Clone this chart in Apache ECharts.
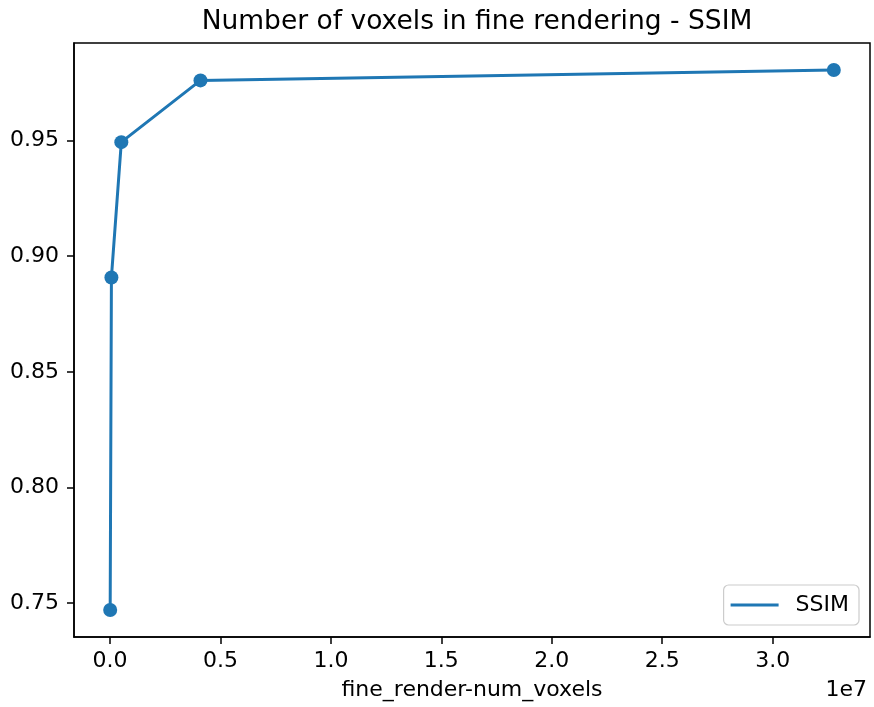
<!DOCTYPE html>
<html>
<head>
<meta charset="utf-8">
<script src="https://cdn.jsdelivr.net/npm/echarts@6/dist/echarts.min.js"></script>
<style>
  html, body { margin: 0; padding: 0; background: #fff; }
  #chart { width: 874px; height: 707px; }
</style>
</head>
<body>
<div id="chart"></div>
<script>
// Fine-render voxel counts and the SSIM measured at each
const voxelCounts = [8000, 64000, 512000, 4096000, 32768000];
const ssimValues = [0.7470, 0.8908, 0.9493, 0.9760, 0.9805];
const xTicks = [0, 5e6, 1e7, 1.5e7, 2e7, 2.5e7, 3e7];
const yTicks = [0.75, 0.80, 0.85, 0.90, 0.95];

// 5% padding around the data range on both axes
const xSpan = voxelCounts[voxelCounts.length - 1] - voxelCounts[0];
const xMin = voxelCounts[0] - 0.05 * xSpan;
const xMax = voxelCounts[voxelCounts.length - 1] + 0.05 * xSpan;
const ySpan = Math.max(...ssimValues) - Math.min(...ssimValues);
const yMin = Math.min(...ssimValues) - 0.05 * ySpan;
const yMax = Math.max(...ssimValues) + 0.05 * ySpan;

const FONT = 'DejaVu Sans';
const TICK_SIZE = 22;
const GRID = { left: 74, right: 4, top: 43, bottom: 70 };
const W = 874;
const plotCenterX = GRID.left + (W - GRID.left - GRID.right) / 2;

const chart = echarts.init(document.getElementById('chart'), null, { renderer: 'canvas' });

chart.setOption({
  animation: false,
  backgroundColor: '#fff',
  title: {
    text: 'Number of voxels in fine rendering - SSIM',
    left: plotCenterX,
    textAlign: 'center',
    top: 4,
    textStyle: { fontFamily: FONT, fontSize: 26.5, fontWeight: 'normal', color: '#000' }
  },
  grid: Object.assign({}, GRID, {
    outerBoundsMode: 'none',
    containLabel: false,
    show: true, borderColor: '#000', borderWidth: 1.5, backgroundColor: 'transparent'
  }),
  legend: {
    data: ['SSIM'],
    right: 15, bottom: 82,
    orient: 'vertical',
    itemWidth: 48, itemHeight: 3, itemGap: 6,
    padding: [9, 10, 9, 7],
    borderColor: '#cccccc', borderWidth: 1.2, borderRadius: 5,
    backgroundColor: 'rgba(255,255,255,0.8)',
    icon: 'rect',
    textStyle: { fontFamily: FONT, fontSize: TICK_SIZE, color: '#000', padding: [0, 0, 0, 12], lineHeight: 22 }
  },
  xAxis: {
    type: 'value',
    min: xMin, max: xMax,
    name: 'fine_render-num_voxels',
    nameLocation: 'middle',
    nameGap: 42,
    nameTextStyle: { fontFamily: FONT, fontSize: TICK_SIZE, color: '#000', verticalAlign: 'top' },
    splitLine: { show: false },
    axisLine: { show: true, onZero: false, lineStyle: { color: '#000', width: 1.5 } },
    axisTick: { show: true, inside: false, length: 7, lineStyle: { color: '#000', width: 1.5 }, customValues: xTicks },
    axisLabel: {
      fontFamily: FONT, fontSize: TICK_SIZE, color: '#000', margin: 13,
      customValues: xTicks,
      formatter: v => (v / 1e7).toFixed(1)
    }
  },
  yAxis: {
    type: 'value',
    min: yMin, max: yMax,
    splitLine: { show: false },
    axisLine: { show: true, onZero: false, lineStyle: { color: '#000', width: 1.5 } },
    axisTick: { show: true, inside: false, length: 7, lineStyle: { color: '#000', width: 1.5 }, customValues: yTicks },
    axisLabel: {
      fontFamily: FONT, fontSize: TICK_SIZE, color: '#000', margin: 15,
      customValues: yTicks,
      formatter: v => v.toFixed(2)
    }
  },
  graphic: [{
    type: 'text',
    right: 7, top: 679,
    style: { text: '1e7', fontFamily: FONT, fontSize: TICK_SIZE, fill: '#000' }
  }],
  series: [{
    name: 'SSIM',
    type: 'line',
    data: voxelCounts.map((v, i) => [v, ssimValues[i]]),
    symbol: 'circle',
    symbolSize: 14,
    showAllSymbol: true,
    itemStyle: { color: '#1f77b4' },
    lineStyle: { color: '#1f77b4', width: 3 }
  }]
});
</script>
</body>
</html>
